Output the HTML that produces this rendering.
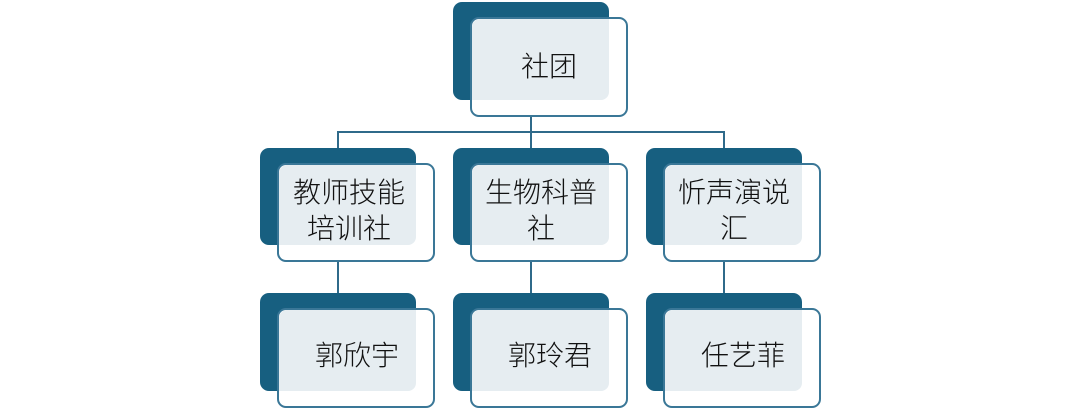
<!DOCTYPE html>
<html><head><meta charset="utf-8"><style>
body{margin:0;width:1080px;height:410px;background:#fff;position:relative;overflow:hidden;font-family:"Liberation Sans","Noto Sans CJK SC",sans-serif;}
div{position:absolute;box-sizing:border-box;}
.d{background:#175f80;border-radius:9px;}
.f{background:#fff;border:2px solid #3a7797;border-radius:9px;}
.l{background:#e6edf1;border-radius:8px 0 8px 0;}
.t{font-size:28px;color:#111;text-align:center;line-height:36px;font-weight:300;}
.ln{background:#2f6a8a;}
</style></head><body>
<div class="ln" style="left:530px;top:117px;width:2px;height:31px"></div>
<div class="ln" style="left:337px;top:131px;width:388px;height:2px"></div>
<div class="ln" style="left:337px;top:131px;width:2px;height:17px"></div>
<div class="ln" style="left:723px;top:131px;width:2px;height:17px"></div>
<div class="ln" style="left:337px;top:262px;width:2px;height:31px"></div>
<div class="ln" style="left:530px;top:262px;width:2px;height:31px"></div>
<div class="ln" style="left:723px;top:262px;width:2px;height:31px"></div>

<div class="d" style="left:453px;top:2px;width:156px;height:98px"></div>
<div class="f" style="left:470px;top:17px;width:158px;height:100px"></div>
<div class="l" style="left:472px;top:19px;width:137px;height:81px"></div>
<div class="t" style="left:470px;top:49px;width:158px">社团</div>

<div class="d" style="left:260px;top:148px;width:156px;height:97px"></div>
<div class="f" style="left:277px;top:163px;width:158px;height:99px"></div>
<div class="l" style="left:279px;top:165px;width:137px;height:80px"></div>
<div class="t" style="left:256px;top:175px;width:186px">教师技能<br>培训社</div>

<div class="d" style="left:453px;top:148px;width:156px;height:97px"></div>
<div class="f" style="left:470px;top:163px;width:158px;height:99px"></div>
<div class="l" style="left:472px;top:165px;width:137px;height:80px"></div>
<div class="t" style="left:448px;top:175px;width:186px">生物科普<br>社</div>

<div class="d" style="left:646px;top:148px;width:156px;height:97px"></div>
<div class="f" style="left:663px;top:163px;width:158px;height:99px"></div>
<div class="l" style="left:665px;top:165px;width:137px;height:80px"></div>
<div class="t" style="left:641px;top:175px;width:186px">忻声演说<br>汇</div>

<div class="d" style="left:260px;top:293px;width:156px;height:98px"></div>
<div class="f" style="left:277px;top:308px;width:158px;height:100px"></div>
<div class="l" style="left:279px;top:310px;width:137px;height:81px"></div>
<div class="t" style="left:278px;top:338px;width:158px">郭欣宇</div>

<div class="d" style="left:453px;top:293px;width:156px;height:98px"></div>
<div class="f" style="left:470px;top:308px;width:158px;height:100px"></div>
<div class="l" style="left:472px;top:310px;width:137px;height:81px"></div>
<div class="t" style="left:471px;top:338px;width:158px">郭玲君</div>

<div class="d" style="left:646px;top:293px;width:156px;height:98px"></div>
<div class="f" style="left:663px;top:308px;width:158px;height:100px"></div>
<div class="l" style="left:665px;top:310px;width:137px;height:81px"></div>
<div class="t" style="left:664px;top:338px;width:158px">任艺菲</div>
</body></html>
